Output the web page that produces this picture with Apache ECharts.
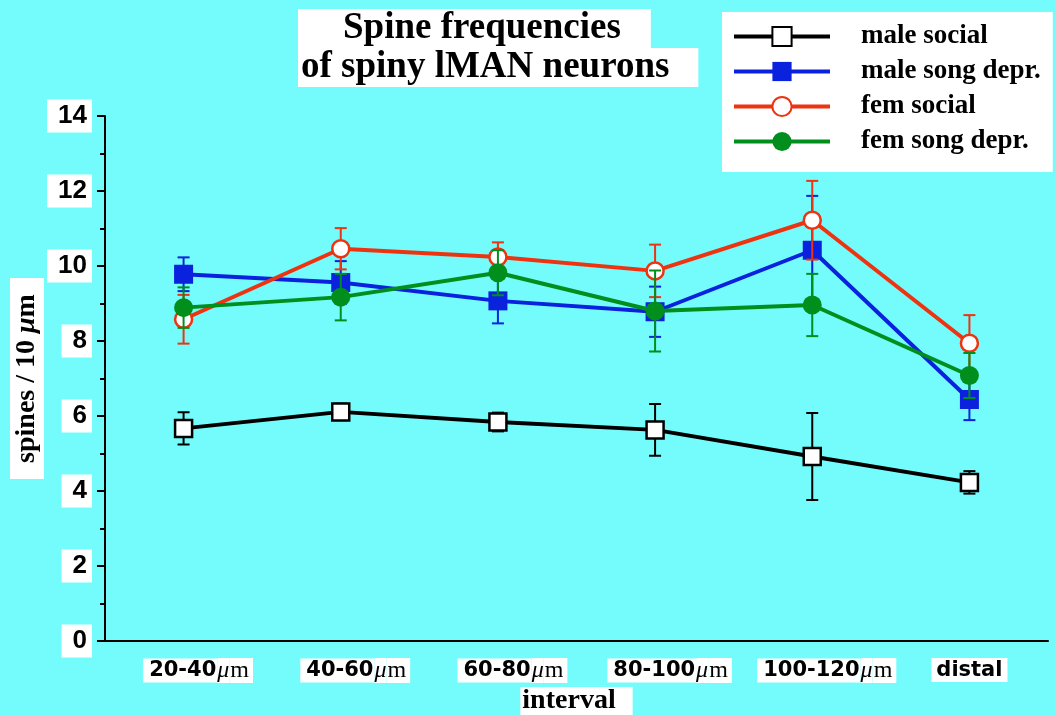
<!DOCTYPE html>
<html><head><meta charset="utf-8">
<script src="https://cdn.jsdelivr.net/npm/echarts@6/dist/echarts.min.js"></script>
<style>html,body{margin:0;padding:0;background:#74FCFC}#c{width:1055px;height:715px}</style>
</head><body><div id="c"></div>
<script>
// ---- data ----
const categories = ['20-40', '40-60', '60-80', '80-100', '100-120', 'distal'];
const seriesNames = ['male social', 'male song depr.', 'fem social', 'fem song depr.'];
const maleSocial = [5.67, 6.11, 5.84, 5.63, 4.92, 4.23];
const maleSocialErr = [0.43, 0.22, 0.25, 0.69, 1.16, 0.30];
const maleSong = [9.78, 9.56, 9.07, 8.78, 10.42, 6.44];
const maleSongErr = [0.45, 0.57, 0.60, 0.67, 1.45, 0.55];
const femSocial = [8.58, 10.46, 10.24, 9.87, 11.22, 7.94];
const femSocialErr = [0.65, 0.55, 0.39, 0.70, 1.05, 0.75];
const femSong = [8.89, 9.17, 9.82, 8.80, 8.96, 7.08];
const femSongErr = [0.54, 0.62, 0.60, 1.08, 0.83, 0.60];
const yMin = 0, yMax = 14, yStep = 2;
const titleLines = ['Spine frequencies', 'of spiny lMAN neurons'];
const xName = 'interval';

// ---- styles ----
const colors = ['#000000', '#0A22DD', '#EE3311', '#008F1C'];
const serif = '"Liberation Serif", "Times New Roman", serif';
const sans = '"DejaVu Sans", sans-serif';

function errSeries(idx, means, errs) {
  const color = colors[idx];
  return {
    type: 'custom', name: 'err' + idx, z: 1 + idx * 2, silent: true, animation: false,
    xAxisIndex: 0, yAxisIndex: 0,
    data: categories.map((c, i) => [i, means[i] - errs[i], means[i] + errs[i]]),
    encode: { x: 0, y: [1, 2] },
    renderItem(params, api) {
      const lo = api.coord([api.value(0), api.value(1)]);
      const hi = api.coord([api.value(0), api.value(2)]);
      const w = 6;
      const st = { stroke: color, lineWidth: 2 };
      return { type: 'group', children: [
        { type: 'line', shape: { x1: lo[0], y1: lo[1], x2: hi[0], y2: hi[1] }, style: st },
        { type: 'line', shape: { x1: lo[0] - w, y1: lo[1], x2: lo[0] + w, y2: lo[1] }, style: st },
        { type: 'line', shape: { x1: hi[0] - w, y1: hi[1], x2: hi[0] + w, y2: hi[1] }, style: st }
      ]};
    }
  };
}

function lineSeries(idx, values, symbol, size, fill, borderW) {
  return {
    type: 'line', name: seriesNames[idx], data: values, z: 2 + idx * 2,
    symbol: symbol, symbolSize: size, showSymbol: true, animation: false,
    lineStyle: { color: colors[idx], width: 4 },
    itemStyle: { color: fill, borderColor: colors[idx], borderWidth: borderW }
  };
}

const muW = 31, padL = 6, padR = 4;
const chart = echarts.init(document.getElementById('c'));
chart.setOption({
  backgroundColor: '#74FCFC',
  animation: false,
  title: [
    { text: titleLines[0], left: 298, top: 10, backgroundColor: '#fff', padding: [1, 30, 1, 45],
      textStyle: { fontFamily: serif, fontWeight: 'bold', fontSize: 37, color: '#000', lineHeight: 35 } },
    { text: titleLines[1], left: 298, top: 49, backgroundColor: '#fff', padding: [1, 29, 1, 3],
      textStyle: { fontFamily: serif, fontWeight: 'bold', fontSize: 37, color: '#000', lineHeight: 35 } }
  ],
  legend: {
    data: seriesNames, orient: 'vertical', left: 722, top: 12,
    backgroundColor: '#fff', padding: [11, 12, 17, 10],
    itemWidth: 96, itemHeight: 24, itemGap: 8,
    lineStyle: { width: 4 },
    textStyle: { fontFamily: serif, fontWeight: 'bold', fontSize: 27, color: '#000', lineHeight: 27, padding: [0, 0, 0, 26] },
    selectedMode: false
  },
  grid: { left: 105, right: 7, top: 116, bottom: 74, outerBoundsMode: 'none', containLabel: false },
  xAxis: [
    { type: 'category', data: categories, boundaryGap: true,
      axisLine: { lineStyle: { color: '#000', width: 2 } },
      axisTick: { alignWithLabel: true, length: 8, lineStyle: { color: '#000', width: 2 } },
      axisLabel: {
        interval: 0, margin: 17,
        formatter: v => v === 'distal'
          ? '{d|' + v + '}'
          : '{sp| }{n|' + v + '}{mu|μ}{m|m}',
        rich: {
          sp: { width: muW + padR - padL, fontSize: 21 },
          d: { fontFamily: sans, fontWeight: 'bold', fontSize: 21, color: '#000', backgroundColor: '#fff', padding: [2, 5, 1, 5] },
          n: { fontFamily: sans, fontWeight: 'bold', fontSize: 21, color: '#000', backgroundColor: '#fff', padding: [2, 1, 1, padL] },
          mu: { fontFamily: serif, fontStyle: 'italic', fontSize: 24, color: '#000', backgroundColor: '#fff', padding: [1, 0, 0, 0], height: 24 },
          m: { fontFamily: serif, fontSize: 24, color: '#000', backgroundColor: '#fff', padding: [1, padR, 0, 1], height: 24 }
        }
      },
      name: xName, nameLocation: 'middle', nameGap: 46, nameMoveOverlap: false,
      nameTextStyle: { fontFamily: serif, fontWeight: 'bold', fontSize: 28, color: '#000', backgroundColor: '#fff', padding: [0, 17, 0, 2] }
    },
    { type: 'category', data: categories, boundaryGap: true, position: 'bottom',
      axisLine: { show: false }, axisLabel: { show: false },
      axisTick: { length: 4, lineStyle: { color: '#000', width: 2 } } }
  ],
  yAxis: {
    type: 'value', min: yMin, max: yMax, interval: yStep,
    splitLine: { show: false },
    axisLine: { show: true, lineStyle: { color: '#000', width: 2 } },
    axisTick: { show: true, length: 8, lineStyle: { color: '#000', width: 2 } },
    minorTick: { show: true, splitNumber: 2, length: 5, lineStyle: { color: '#000', width: 2 } },
    axisLabel: { margin: 13, fontFamily: '"Liberation Sans", Arial, sans-serif', fontWeight: 'bold', fontSize: 26,
      color: '#000', backgroundColor: '#fff', padding: [4, 5, 3, 11] },
    name: '{a|spines / 10 }{mu|μ}{a|m}', nameLocation: 'middle', nameGap: 61, nameMoveOverlap: false,
    nameTextStyle: { backgroundColor: '#fff', padding: [3, 16, 3, 16],
      rich: {
        a: { fontFamily: serif, fontWeight: 'bold', fontSize: 28, color: '#000' },
        mu: { fontFamily: serif, fontWeight: 'bold', fontStyle: 'italic', fontSize: 28, color: '#000' }
      } }
  },
  series: [
    errSeries(0, maleSocial, maleSocialErr),
    lineSeries(0, maleSocial, 'rect', 17, '#fff', 2.5),
    errSeries(1, maleSong, maleSongErr),
    lineSeries(1, maleSong, 'rect', 19, colors[1], 0),
    errSeries(2, femSocial, femSocialErr),
    lineSeries(2, femSocial, 'circle', 17, '#fff', 2.5),
    errSeries(3, femSong, femSongErr),
    lineSeries(3, femSong, 'circle', 19, colors[3], 0)
  ]
});
</script></body></html>
